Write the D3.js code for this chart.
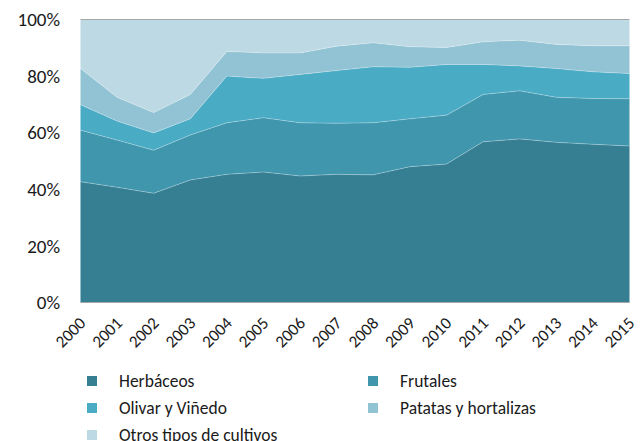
<!DOCTYPE html>
<html>
<head>
<meta charset="utf-8">
<script src="https://cdn.jsdelivr.net/npm/d3@7"></script>
<style>
  body { margin: 0; background: #fff; }
  text { font-family: Carlito, Lato, "Open Sans", sans-serif; fill: #1a1a1a; }
</style>
</head>
<body>
<div id="chart"></div>
<script>
'use strict';

// años
var years = [2000, 2001, 2002, 2003, 2004, 2005, 2006, 2007, 2008, 2009, 2010, 2011, 2012, 2013, 2014, 2015];

// porcentajes (%)
var herbaceos = [42.7, 40.7, 38.6, 43.3, 45.3, 46.1, 44.7, 45.2, 45.1, 48.0, 48.9, 56.8, 57.8, 56.6, 55.9, 55.3];
var frutales = [18.2, 16.7, 15.2, 15.9, 18.2, 19.2, 18.8, 18.0, 18.4, 16.9, 17.3, 16.7, 17.0, 15.9, 16.2, 16.7];
var olivarVinedo = [9.0, 6.7, 6.1, 5.7, 16.5, 13.9, 17.1, 18.6, 19.8, 18.2, 17.9, 10.6, 8.8, 10.2, 9.4, 8.9];
var patatasHortalizas = [12.8, 8.4, 7.2, 8.6, 8.7, 9.0, 7.6, 8.6, 8.5, 7.3, 6.0, 8.0, 9.1, 8.5, 9.2, 9.8];
var otrosCultivos = [17.3, 27.5, 32.9, 26.5, 11.3, 11.8, 11.8, 9.4, 8.2, 9.6, 9.9, 7.9, 7.3, 8.8, 9.3, 9.3];

var seriesNames = ['Herbáceos', 'Frutales', 'Olivar y Viñedo', 'Patatas y hortalizas', 'Otros tipos de cultivos'];
var seriesValues = [herbaceos, frutales, olivarVinedo, patatasHortalizas, otrosCultivos];
var colors = ['#367f93', '#4096ad', '#4aabc5', '#92c3d4', '#bdd9e4'];
var yTicks = [0, 20, 40, 60, 80, 100];

var width = 640, height = 441;

var svg = d3.select('#chart')
    .append('svg')
    .attr('width', width)
    .attr('height', height);

// build rows for the stack
var rows = years.map(function (y, i) {
    var r = { year: y };
    seriesNames.forEach(function (name, k) { r[name] = seriesValues[k][i]; });
    return r;
});

var stack = d3.stack()
    .keys(seriesNames)
    .offset(d3.stackOffsetExpand);
var layers = stack(rows);

var x = d3.scaleLinear()
    .domain([years[0], years[years.length - 1]])
    .range([80.5, 629.5]);
var y = d3.scaleLinear()
    .domain([0, 1])
    .range([302.5, 19.5]);

var area = d3.area()
    .x(function (d) { return x(d.data.year); })
    .y0(function (d) { return y(d[0]); })
    .y1(function (d) { return y(d[1]); });

svg.append('g')
    .selectAll('path')
    .data(layers)
    .enter()
    .append('path')
    .attr('d', area)
    .attr('fill', function (d, i) { return colors[i]; });

// thin light lines between the layers
var line = d3.line()
    .x(function (d) { return x(d.data.year); })
    .y(function (d) { return y(d[1]); });
svg.append('g')
    .selectAll('path')
    .data(layers.slice(0, 4))
    .enter()
    .append('path')
    .attr('d', line)
    .attr('fill', 'none')
    .attr('stroke', 'rgba(255,255,255,0.35)')
    .attr('stroke-width', 0.8);

// top and bottom borders
svg.append('line')
    .attr('x1', x.range()[0]).attr('x2', x.range()[1])
    .attr('y1', y(1)).attr('y2', y(1))
    .attr('stroke', '#a6a6a6').attr('stroke-width', 1.2);
svg.append('line')
    .attr('x1', x.range()[0]).attr('x2', x.range()[1])
    .attr('y1', y(0)).attr('y2', y(0))
    .attr('stroke', '#a6a6a6').attr('stroke-width', 1.2);

// y axis labels
svg.append('g')
    .selectAll('text')
    .data(yTicks)
    .enter()
    .append('text')
    .attr('x', 60)
    .attr('y', function (d) { return y(d / 100); })
    .attr('dy', '0.35em')
    .attr('text-anchor', 'end')
    .style('font-size', '19px')
    .text(function (d) { return d + '%'; });

// x axis labels, rotated
svg.append('g')
    .selectAll('text')
    .data(years)
    .enter()
    .append('text')
    .attr('transform', function (d) {
        return 'translate(' + (x(d) + 2) + ',' + 320 + ') rotate(-45)';
    })
    .attr('dy', '0.35em')
    .attr('text-anchor', 'end')
    .style('font-size', '17px')
    .text(function (d) { return d; });

// legend
var legendPos = [[87, 381], [368, 381], [87, 408], [368, 408], [87, 435]];
var legend = svg.append('g')
    .selectAll('g')
    .data(seriesNames)
    .enter()
    .append('g')
    .attr('transform', function (d, i) {
        return 'translate(' + legendPos[i][0] + ',' + legendPos[i][1] + ')';
    });
legend.append('rect')
    .attr('x', 0)
    .attr('y', -5)
    .attr('width', 10)
    .attr('height', 10)
    .attr('fill', function (d, i) { return colors[i]; });
legend.append('text')
    .attr('x', 32)
    .attr('y', 0)
    .attr('dy', '0.35em')
    .style('font-size', '17.5px')
    .text(function (d) { return d; });
</script>
</body>
</html>
